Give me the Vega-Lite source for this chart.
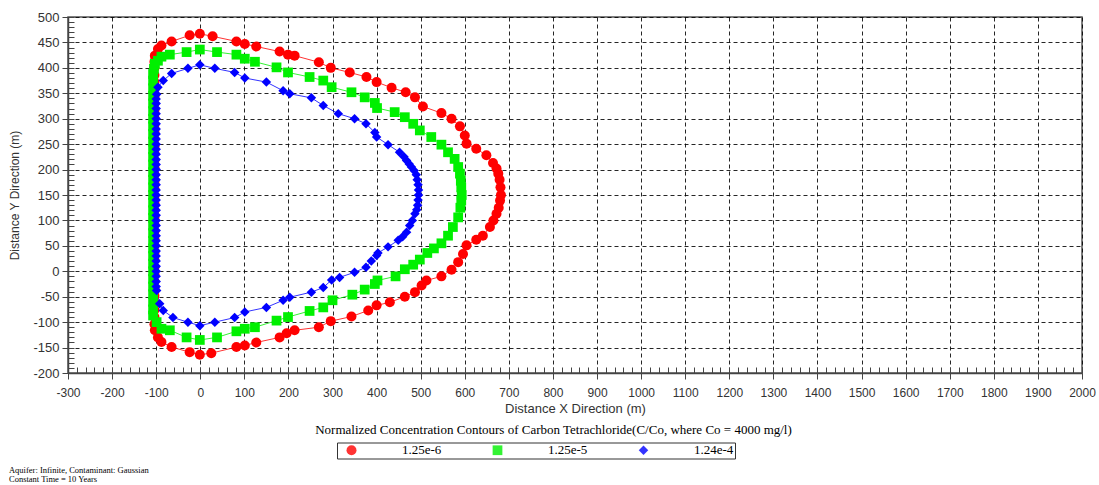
{
"$schema": "https://vega.github.io/schema/vega-lite/v6.json",
"width": 1014, "height": 356,
"autosize": {"type": "none"},
"padding": {"left": 68, "top": 17, "right": 17, "bottom": 112},
"background": "white",
"title": {"text": ["Aquifer: Infinite, Contaminant: Gaussian", "Constant Time = 10 Years"], "orient": "bottom", "anchor": "start", "frame": "bounds", "font": "Liberation Serif", "fontSize": 8.5, "fontWeight": "normal", "color": "#000", "offset": 7, "baseline": "top", "lineHeight": 9},
"config": {"view": {"stroke": "#555", "strokeWidth": 1.5}},
"data": {"values": [
{"s":"1.25e-6","x":-104,"y":-104},{"s":"1.25e-6","x":-104,"y":-90},{"s":"1.25e-6","x":-104,"y":-76},{"s":"1.25e-6","x":-104,"y":-62},{"s":"1.25e-6","x":-104,"y":-48},{"s":"1.25e-6","x":-104,"y":-34},{"s":"1.25e-6","x":-104,"y":-20},{"s":"1.25e-6","x":-104,"y":-6},{"s":"1.25e-6","x":-104,"y":8},{"s":"1.25e-6","x":-104,"y":22},{"s":"1.25e-6","x":-104,"y":36},{"s":"1.25e-6","x":-104,"y":50},{"s":"1.25e-6","x":-104,"y":64},{"s":"1.25e-6","x":-104,"y":78},{"s":"1.25e-6","x":-104,"y":92},{"s":"1.25e-6","x":-104,"y":106},{"s":"1.25e-6","x":-104,"y":120},{"s":"1.25e-6","x":-104,"y":134},{"s":"1.25e-6","x":-104,"y":148},{"s":"1.25e-6","x":-104,"y":162},{"s":"1.25e-6","x":-104,"y":176},{"s":"1.25e-6","x":-104,"y":190},{"s":"1.25e-6","x":-104,"y":204},{"s":"1.25e-6","x":-104,"y":218},{"s":"1.25e-6","x":-104,"y":232},{"s":"1.25e-6","x":-104,"y":246},{"s":"1.25e-6","x":-104,"y":260},{"s":"1.25e-6","x":-104,"y":274},{"s":"1.25e-6","x":-104,"y":288},{"s":"1.25e-6","x":-104,"y":302},{"s":"1.25e-6","x":-104,"y":316},{"s":"1.25e-6","x":-104,"y":330},{"s":"1.25e-6","x":-104,"y":344},{"s":"1.25e-6","x":-104,"y":358},{"s":"1.25e-6","x":-104,"y":372},{"s":"1.25e-6","x":-104,"y":386},{"s":"1.25e-6","x":-104,"y":400},{"s":"1.25e-6","x":-104,"y":412},
{"s":"1.25e-6","x":-103,"y":424},{"s":"1.25e-6","x":-96,"y":437},{"s":"1.25e-6","x":-88,"y":444},{"s":"1.25e-6","x":-65,"y":452},{"s":"1.25e-6","x":-24,"y":464},{"s":"1.25e-6","x":-1,"y":467},{"s":"1.25e-6","x":28,"y":462},{"s":"1.25e-6","x":82,"y":452},{"s":"1.25e-6","x":101,"y":447},{"s":"1.25e-6","x":127,"y":442},{"s":"1.25e-6","x":180,"y":432},{"s":"1.25e-6","x":199,"y":426},{"s":"1.25e-6","x":214,"y":424},{"s":"1.25e-6","x":269,"y":411},{"s":"1.25e-6","x":296,"y":400},{"s":"1.25e-6","x":339,"y":391},{"s":"1.25e-6","x":377,"y":382},{"s":"1.25e-6","x":400,"y":372},{"s":"1.25e-6","x":434,"y":361},{"s":"1.25e-6","x":466,"y":352},{"s":"1.25e-6","x":487,"y":342},{"s":"1.25e-6","x":505,"y":324},{"s":"1.25e-6","x":547,"y":311},{"s":"1.25e-6","x":570,"y":300},{"s":"1.25e-6","x":589,"y":285},{"s":"1.25e-6","x":600,"y":267},{"s":"1.25e-6","x":604,"y":251},{"s":"1.25e-6","x":626,"y":241},{"s":"1.25e-6","x":649,"y":228},{"s":"1.25e-6","x":664,"y":213},{"s":"1.25e-6","x":672,"y":202},{"s":"1.25e-6","x":676,"y":192},{"s":"1.25e-6","x":679,"y":180},{"s":"1.25e-6","x":681,"y":165},{"s":"1.25e-6","x":682,"y":150},{"s":"1.25e-6","x":680,"y":139},{"s":"1.25e-6","x":677,"y":125},{"s":"1.25e-6","x":672,"y":113},{"s":"1.25e-6","x":665,"y":100},{"s":"1.25e-6","x":657,"y":87},{"s":"1.25e-6","x":641,"y":70},{"s":"1.25e-6","x":626,"y":62},{"s":"1.25e-6","x":604,"y":51},{"s":"1.25e-6","x":596,"y":34},{"s":"1.25e-6","x":585,"y":18},{"s":"1.25e-6","x":570,"y":3},{"s":"1.25e-6","x":547,"y":-10},{"s":"1.25e-6","x":513,"y":-18},{"s":"1.25e-6","x":502,"y":-28},{"s":"1.25e-6","x":487,"y":-41},{"s":"1.25e-6","x":464,"y":-50},{"s":"1.25e-6","x":430,"y":-61},{"s":"1.25e-6","x":400,"y":-67},{"s":"1.25e-6","x":381,"y":-77},{"s":"1.25e-6","x":343,"y":-89},{"s":"1.25e-6","x":296,"y":-98},{"s":"1.25e-6","x":269,"y":-110},{"s":"1.25e-6","x":214,"y":-116},{"s":"1.25e-6","x":196,"y":-122},{"s":"1.25e-6","x":180,"y":-130},{"s":"1.25e-6","x":127,"y":-140},{"s":"1.25e-6","x":101,"y":-146},{"s":"1.25e-6","x":82,"y":-149},{"s":"1.25e-6","x":25,"y":-161},{"s":"1.25e-6","x":-1,"y":-164},{"s":"1.25e-6","x":-24,"y":-159},{"s":"1.25e-6","x":-65,"y":-149},{"s":"1.25e-6","x":-88,"y":-139},{"s":"1.25e-6","x":-96,"y":-130},{"s":"1.25e-6","x":-103,"y":-116},
{"s":"1.25e-5","x":-107,"y":-75},{"s":"1.25e-5","x":-107,"y":-60},{"s":"1.25e-5","x":-107,"y":-45},{"s":"1.25e-5","x":-107,"y":-30},{"s":"1.25e-5","x":-107,"y":-15},{"s":"1.25e-5","x":-107,"y":0},{"s":"1.25e-5","x":-107,"y":15},{"s":"1.25e-5","x":-107,"y":30},{"s":"1.25e-5","x":-107,"y":45},{"s":"1.25e-5","x":-107,"y":60},{"s":"1.25e-5","x":-107,"y":75},{"s":"1.25e-5","x":-107,"y":90},{"s":"1.25e-5","x":-107,"y":105},{"s":"1.25e-5","x":-107,"y":120},{"s":"1.25e-5","x":-107,"y":135},{"s":"1.25e-5","x":-107,"y":150},{"s":"1.25e-5","x":-107,"y":165},{"s":"1.25e-5","x":-107,"y":180},{"s":"1.25e-5","x":-107,"y":195},{"s":"1.25e-5","x":-107,"y":210},{"s":"1.25e-5","x":-107,"y":225},{"s":"1.25e-5","x":-107,"y":240},{"s":"1.25e-5","x":-107,"y":255},{"s":"1.25e-5","x":-107,"y":270},{"s":"1.25e-5","x":-107,"y":285},{"s":"1.25e-5","x":-107,"y":300},{"s":"1.25e-5","x":-107,"y":315},{"s":"1.25e-5","x":-107,"y":330},{"s":"1.25e-5","x":-107,"y":345},{"s":"1.25e-5","x":-107,"y":360},{"s":"1.25e-5","x":-107,"y":375},{"s":"1.25e-5","x":-107,"y":388},
{"s":"1.25e-5","x":-105,"y":398},{"s":"1.25e-5","x":-103,"y":408},{"s":"1.25e-5","x":-96,"y":414},{"s":"1.25e-5","x":-88,"y":422},{"s":"1.25e-5","x":-69,"y":426},{"s":"1.25e-5","x":-31,"y":431},{"s":"1.25e-5","x":-1,"y":436},{"s":"1.25e-5","x":38,"y":431},{"s":"1.25e-5","x":82,"y":426},{"s":"1.25e-5","x":101,"y":418},{"s":"1.25e-5","x":124,"y":412},{"s":"1.25e-5","x":173,"y":401},{"s":"1.25e-5","x":199,"y":391},{"s":"1.25e-5","x":248,"y":382},{"s":"1.25e-5","x":279,"y":375},{"s":"1.25e-5","x":298,"y":362},{"s":"1.25e-5","x":343,"y":352},{"s":"1.25e-5","x":373,"y":342},{"s":"1.25e-5","x":396,"y":331},{"s":"1.25e-5","x":401,"y":321},{"s":"1.25e-5","x":441,"y":313},{"s":"1.25e-5","x":464,"y":303},{"s":"1.25e-5","x":483,"y":290},{"s":"1.25e-5","x":498,"y":277},{"s":"1.25e-5","x":524,"y":264},{"s":"1.25e-5","x":547,"y":249},{"s":"1.25e-5","x":562,"y":234},{"s":"1.25e-5","x":577,"y":221},{"s":"1.25e-5","x":585,"y":205},{"s":"1.25e-5","x":589,"y":192},{"s":"1.25e-5","x":591,"y":178},{"s":"1.25e-5","x":592,"y":165},{"s":"1.25e-5","x":593,"y":150},{"s":"1.25e-5","x":592,"y":139},{"s":"1.25e-5","x":590,"y":125},{"s":"1.25e-5","x":585,"y":106},{"s":"1.25e-5","x":573,"y":87},{"s":"1.25e-5","x":562,"y":70},{"s":"1.25e-5","x":547,"y":55},{"s":"1.25e-5","x":530,"y":45},{"s":"1.25e-5","x":515,"y":36},{"s":"1.25e-5","x":498,"y":23},{"s":"1.25e-5","x":483,"y":13},{"s":"1.25e-5","x":464,"y":4},{"s":"1.25e-5","x":443,"y":-10},{"s":"1.25e-5","x":402,"y":-18},{"s":"1.25e-5","x":396,"y":-25},{"s":"1.25e-5","x":373,"y":-36},{"s":"1.25e-5","x":345,"y":-46},{"s":"1.25e-5","x":300,"y":-57},{"s":"1.25e-5","x":279,"y":-71},{"s":"1.25e-5","x":248,"y":-78},{"s":"1.25e-5","x":199,"y":-90},{"s":"1.25e-5","x":173,"y":-97},{"s":"1.25e-5","x":124,"y":-110},{"s":"1.25e-5","x":101,"y":-113},{"s":"1.25e-5","x":82,"y":-118},{"s":"1.25e-5","x":38,"y":-130},{"s":"1.25e-5","x":-1,"y":-135},{"s":"1.25e-5","x":-31,"y":-130},{"s":"1.25e-5","x":-69,"y":-116},{"s":"1.25e-5","x":-88,"y":-113},{"s":"1.25e-5","x":-99,"y":-100},{"s":"1.25e-5","x":-107,"y":-87},
{"s":"1.24e-4","x":-100,"y":-30},{"s":"1.24e-4","x":-100,"y":-20},{"s":"1.24e-4","x":-100,"y":-10},{"s":"1.24e-4","x":-100,"y":0},{"s":"1.24e-4","x":-100,"y":10},{"s":"1.24e-4","x":-100,"y":20},{"s":"1.24e-4","x":-100,"y":30},{"s":"1.24e-4","x":-100,"y":40},{"s":"1.24e-4","x":-100,"y":50},{"s":"1.24e-4","x":-100,"y":60},{"s":"1.24e-4","x":-100,"y":70},{"s":"1.24e-4","x":-100,"y":80},{"s":"1.24e-4","x":-100,"y":90},{"s":"1.24e-4","x":-100,"y":100},{"s":"1.24e-4","x":-100,"y":110},{"s":"1.24e-4","x":-100,"y":120},{"s":"1.24e-4","x":-100,"y":130},{"s":"1.24e-4","x":-100,"y":140},{"s":"1.24e-4","x":-100,"y":150},{"s":"1.24e-4","x":-100,"y":160},{"s":"1.24e-4","x":-100,"y":170},{"s":"1.24e-4","x":-100,"y":180},{"s":"1.24e-4","x":-100,"y":190},{"s":"1.24e-4","x":-100,"y":200},{"s":"1.24e-4","x":-100,"y":210},{"s":"1.24e-4","x":-100,"y":220},{"s":"1.24e-4","x":-100,"y":230},{"s":"1.24e-4","x":-100,"y":240},{"s":"1.24e-4","x":-100,"y":250},{"s":"1.24e-4","x":-100,"y":260},{"s":"1.24e-4","x":-100,"y":270},{"s":"1.24e-4","x":-100,"y":280},{"s":"1.24e-4","x":-100,"y":290},{"s":"1.24e-4","x":-100,"y":300},{"s":"1.24e-4","x":-100,"y":310},{"s":"1.24e-4","x":-100,"y":320},{"s":"1.24e-4","x":-100,"y":330},{"s":"1.24e-4","x":-100,"y":339},
{"s":"1.24e-4","x":-99,"y":348},{"s":"1.24e-4","x":-96,"y":362},{"s":"1.24e-4","x":-84,"y":375},{"s":"1.24e-4","x":-65,"y":389},{"s":"1.24e-4","x":-28,"y":399},{"s":"1.24e-4","x":-1,"y":406},{"s":"1.24e-4","x":33,"y":399},{"s":"1.24e-4","x":78,"y":391},{"s":"1.24e-4","x":101,"y":380},{"s":"1.24e-4","x":150,"y":372},{"s":"1.24e-4","x":188,"y":355},{"s":"1.24e-4","x":203,"y":349},{"s":"1.24e-4","x":252,"y":341},{"s":"1.24e-4","x":279,"y":326},{"s":"1.24e-4","x":313,"y":310},{"s":"1.24e-4","x":350,"y":300},{"s":"1.24e-4","x":376,"y":290},{"s":"1.24e-4","x":396,"y":273},{"s":"1.24e-4","x":400,"y":264},{"s":"1.24e-4","x":426,"y":249},{"s":"1.24e-4","x":452,"y":234},{"s":"1.24e-4","x":462,"y":225},{"s":"1.24e-4","x":468,"y":218},{"s":"1.24e-4","x":474,"y":211},{"s":"1.24e-4","x":479,"y":205},{"s":"1.24e-4","x":485,"y":198},{"s":"1.24e-4","x":490,"y":190},{"s":"1.24e-4","x":492,"y":180},{"s":"1.24e-4","x":494,"y":170},{"s":"1.24e-4","x":495,"y":160},{"s":"1.24e-4","x":495,"y":150},{"s":"1.24e-4","x":494,"y":140},{"s":"1.24e-4","x":493,"y":130},{"s":"1.24e-4","x":491,"y":121},{"s":"1.24e-4","x":487,"y":113},{"s":"1.24e-4","x":481,"y":100},{"s":"1.24e-4","x":475,"y":90},{"s":"1.24e-4","x":468,"y":77},{"s":"1.24e-4","x":459,"y":68},{"s":"1.24e-4","x":449,"y":61},{"s":"1.24e-4","x":426,"y":48},{"s":"1.24e-4","x":403,"y":36},{"s":"1.24e-4","x":400,"y":31},{"s":"1.24e-4","x":388,"y":20},{"s":"1.24e-4","x":376,"y":8},{"s":"1.24e-4","x":350,"y":-2},{"s":"1.24e-4","x":316,"y":-12},{"s":"1.24e-4","x":298,"y":-17},{"s":"1.24e-4","x":279,"y":-32},{"s":"1.24e-4","x":252,"y":-41},{"s":"1.24e-4","x":203,"y":-51},{"s":"1.24e-4","x":188,"y":-57},{"s":"1.24e-4","x":150,"y":-71},{"s":"1.24e-4","x":101,"y":-80},{"s":"1.24e-4","x":78,"y":-91},{"s":"1.24e-4","x":33,"y":-100},{"s":"1.24e-4","x":-1,"y":-107},{"s":"1.24e-4","x":-28,"y":-100},{"s":"1.24e-4","x":-62,"y":-91},{"s":"1.24e-4","x":-84,"y":-77},{"s":"1.24e-4","x":-92,"y":-64},{"s":"1.24e-4","x":-99,"y":-38}
]},
"layer": [
{
"mark": {"type": "line", "strokeWidth": 1, "opacity": 0.8},
"encoding": {
"x": {"field": "x", "type": "quantitative", "scale": {"domain": [-300, 2000], "nice": false, "zero": false},
"axis": {"orient": "bottom", "values": [-300,-200,-100,0,100,200,300,400,500,600,700,800,900,1000,1100,1200,1300,1400,1500,1600,1700,1800,1900,2000],
"labelExpr": "'' + datum.value", "labelFont": "Liberation Sans", "labelFontSize": 12, "labelColor": "#333", "labelPadding": 8, "labelFlush": false, "labelOverlap": false,
"tickSize": 6, "tickColor": "#444", "domainColor": "#444", "domainWidth": 1.5,
"grid": true, "gridColor": "#000", "gridDash": [4, 3], "gridOpacity": 0.85, "gridWidth": 1,
"title": "Distance X Direction (m)", "titleFont": "Liberation Sans", "titleFontSize": 13, "titleFontWeight": "normal", "titleColor": "#333", "titlePadding": 4}},
"y": {"field": "y", "type": "quantitative", "scale": {"domain": [-200, 500], "nice": false, "zero": false},
"axis": {"orient": "left", "values": [-200,-150,-100,-50,0,50,100,150,200,250,300,350,400,450,500],
"labelExpr": "'' + datum.value", "labelFont": "Liberation Sans", "labelFontSize": 13, "labelColor": "#333", "labelPadding": 3, "labelFlush": false, "labelOverlap": false,
"tickSize": 6, "tickColor": "#444", "domainColor": "#444", "domainWidth": 1.5,
"grid": true, "gridColor": "#000", "gridDash": [4, 3], "gridOpacity": 0.85, "gridWidth": 1,
"title": "Distance Y Direction (m)", "titleFont": "Liberation Sans", "titleFontSize": 12, "titleFontWeight": "normal", "titleColor": "#333", "titlePadding": 11}},
"color": {"field": "s", "type": "nominal", "scale": {"domain": ["1.25e-6", "1.25e-5", "1.24e-4"], "range": ["#ff0000", "#00f000", "#0000ff"]}},
"order": {"value": null}
}
},
{
"mark": {"type": "point", "filled": true, "opacity": 1, "strokeWidth": 0},
"encoding": {
"x": {"field": "x", "type": "quantitative", "scale": {"domain": [-300, 2000], "nice": false, "zero": false},
"axis": {"orient": "bottom", "values": [-300,-280,-260,-240,-220,-200,-180,-160,-140,-120,-100,-80,-60,-40,-20,0,20,40,60,80,100,120,140,160,180,200,220,240,260,280,300,320,340,360,380,400,420,440,460,480,500,520,540,560,580,600,620,640,660,680,700,720,740,760,780,800,820,840,860,880,900,920,940,960,980,1000,1020,1040,1060,1080,1100,1120,1140,1160,1180,1200,1220,1240,1260,1280,1300,1320,1340,1360,1380,1400,1420,1440,1460,1480,1500,1520,1540,1560,1580,1600,1620,1640,1660,1680,1700,1720,1740,1760,1780,1800,1820,1840,1860,1880,1900,1920,1940,1960,1980,2000],
"labels": false, "domain": false, "grid": false, "tickSize": -6, "tickColor": "#444", "tickWidth": 1,
"title": "Normalized Concentration Contours  of Carbon Tetrachloride(C/Co, where Co = 4000 mg/l)", "titleFont": "Liberation Serif", "titleFontSize": 13, "titleFontWeight": "normal", "titleColor": "#000", "titlePadding": 50, "titleX": 485, "titleAlign": "center"}},
"y": {"field": "y", "type": "quantitative", "scale": {"domain": [-200, 500], "nice": false, "zero": false},
"axis": {"orient": "left", "values": [-200,-190,-180,-170,-160,-150,-140,-130,-120,-110,-100,-90,-80,-70,-60,-50,-40,-30,-20,-10,0,10,20,30,40,50,60,70,80,90,100,110,120,130,140,150,160,170,180,190,200,210,220,230,240,250,260,270,280,290,300,310,320,330,340,350,360,370,380,390,400,410,420,430,440,450,460,470,480,490,500],
"labels": false, "domain": false, "grid": false, "tickSize": -6, "tickColor": "#444", "tickWidth": 1, "title": null}},
"color": {"field": "s", "type": "nominal", "scale": {"domain": ["1.25e-6", "1.25e-5", "1.24e-4"], "range": ["#ff0000", "#00f000", "#0000ff"]},
"legend": {"orient": "none", "legendX": 269, "legendY": 425.5, "title": null, "direction": "horizontal", "columns": 3,
"strokeColor": "#333", "padding": 1, "symbolSize": 80, "symbolStrokeWidth": 0, "symbolOffset": 7, "labelOffset": 44, "columnPadding": 42,
"labelFont": "Liberation Serif", "labelFontSize": 13, "labelColor": "#000", "labelLimit": 300,
"labelExpr": "datum.label == '1.24e-4' ? datum.label + '\u00a0\u00a0\u00a0\u00a0\u00a0\u00a0\u00a0\u00a0\u00a0\u00a0\u00a0\u00a0\u00a0\u00a0' : datum.label"}},
"shape": {"field": "s", "type": "nominal", "scale": {"domain": ["1.25e-6", "1.25e-5", "1.24e-4"], "range": ["circle", "square", "diamond"]}},
"size": {"field": "s", "type": "nominal", "scale": {"domain": ["1.25e-6", "1.25e-5", "1.24e-4"], "range": [100, 90, 130]}, "legend": null}
}
}
],
"resolve": {"axis": {"x": "independent", "y": "independent"}}
}
